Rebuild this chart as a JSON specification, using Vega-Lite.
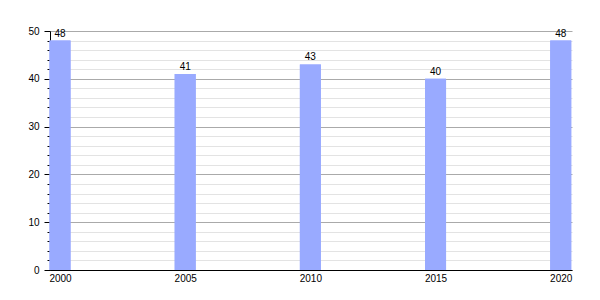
{
  "$schema": "https://vega.github.io/schema/vega-lite/v6.json",
  "width": 522,
  "height": 239,
  "autosize": {"type": "none"},
  "padding": {"left": 50, "top": 31, "right": 28, "bottom": 30},
  "config": {
    "view": {"stroke": null},
    "font": "Liberation Sans",
    "axis": {"labelFont": "Liberation Sans", "labelFontSize": 10, "labelColor": "#000", "domainColor": "#000", "tickColor": "#000"}
  },
  "data": {"values": [
    {"year": 2000, "value": 48},
    {"year": 2005, "value": 41},
    {"year": 2010, "value": 43},
    {"year": 2015, "value": 40},
    {"year": 2020, "value": 48}
  ]},
  "resolve": {"axis": {"y": "independent"}},
  "layer": [
    {
      "mark": {"type": "bar", "color": "#99aaff", "size": 21},
      "encoding": {
        "x": {"field": "year", "type": "quantitative", "scale": {"domain": [1999.6, 2020.45], "nice": false, "zero": false, "padding": 0},
          "axis": {"values": [2000, 2005, 2010, 2015, 2020], "format": "d", "title": null, "ticks": false, "grid": false, "labelPadding": 3, "domainColor": "#000"}},
        "y": {"field": "value", "type": "quantitative", "scale": {"domain": [0, 50], "nice": false},
          "axis": {"values": [0, 2, 4, 6, 8, 12, 14, 16, 18, 22, 24, 26, 28, 32, 34, 36, 38, 42, 44, 46, 48], "labels": false, "title": null, "grid": true, "gridColor": "#e3e3e3", "tickSize": 3, "domain": false, "orient": "left"}}
      }
    },
    {
      "mark": {"type": "bar", "color": "#99aaff", "size": 21},
      "encoding": {
        "x": {"field": "year", "type": "quantitative"},
        "y": {"field": "value", "type": "quantitative",
          "axis": {"values": [0, 10, 20, 30, 40, 50], "title": null, "grid": true, "gridColor": "#aaaaaa", "tickSize": 6, "labelPadding": 5, "orient": "left"}}
      }
    },
    {
      "mark": {"type": "text", "baseline": "bottom", "dy": -2, "fontSize": 10, "color": "#000", "font": "Liberation Sans"},
      "encoding": {
        "x": {"field": "year", "type": "quantitative"},
        "y": {"field": "value", "type": "quantitative", "axis": null},
        "text": {"field": "value", "type": "quantitative"}
      }
    }
  ]
}
